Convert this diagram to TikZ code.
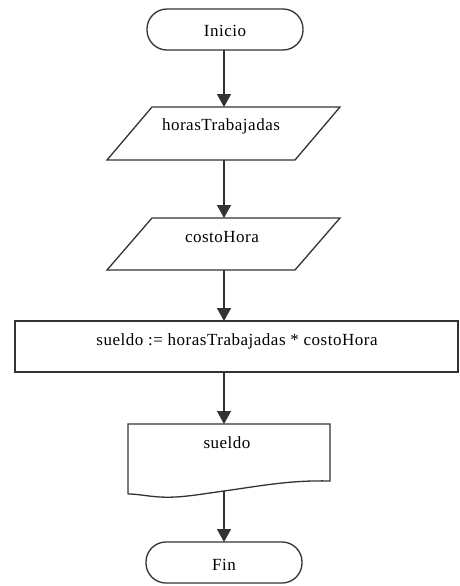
\documentclass[tikz,border=0pt]{standalone}
\usepackage{fontspec}
\setmainfont{Liberation Serif}[LetterSpace=3]
\usetikzlibrary{arrows.meta,calc}
\definecolor{ln}{HTML}{333333}
\tikzset{
  x=1pt, y=-1pt,
  shapebox/.style={draw=none, inner sep=0pt, outer sep=0pt, minimum width=#1},
  term/.style={draw=ln, line width=1.3pt, rounded corners=20pt, inner sep=0pt, outer sep=0pt, minimum width=156pt, minimum height=41pt},
  outl/.style={draw=ln, line width=1.3pt},
  lbl/.style={inner sep=0pt, font=\fontsize{17}{20}\selectfont},
  arr/.style={draw=ln, line width=1.3pt, -{Triangle[width=14pt,length=13pt]}}
}
\begin{document}
\begin{tikzpicture}
\useasboundingbox (0,0) rectangle (460,586);
\fill[white] (0,0) rectangle (460,586);
\coordinate (ax) at (224,0);
% Inicio
\node[term] (ini) at (225,29.5) {};
\node[lbl] (tini) at (225,31) {Inicio};
% parallelogram 1
\node[shapebox=233pt, minimum height=53pt] (p1) at (223.5,133.5) {};
\draw[outl] ($(p1.north west)+(45,0)$) -- (p1.north east) -- ($(p1.south east)-(45,0)$) -- (p1.south west) -- cycle;
\node[lbl] (tp1) at (221,126) {horasTrabajadas};
% parallelogram 2
\node[shapebox=233pt, minimum height=52pt] (p2) at (223.5,244) {};
\draw[outl] ($(p2.north west)+(45,0)$) -- (p2.north east) -- ($(p2.south east)-(45,0)$) -- (p2.south west) -- cycle;
\node[lbl] (tp2) at (222,237) {costoHora};
% process
\node[shapebox=443pt, minimum height=51pt, draw=ln, line width=1.3pt] (pr) at (236.5,346.5) {};
\node[lbl] (tpr) at (237,341) {sueldo := horasTrabajadas * costoHora};
% document
\node[shapebox=202pt, minimum height=70pt] (doc) at (229,459) {};
\draw[outl] (doc.south west) -- (doc.north west) -- (doc.north east) -- (330,481)
  .. controls (290,480) and (260,486) .. (224,491)
  .. controls (195,495) and (180,498) .. (160,497)
  .. controls (145,496) and (138,494) .. (doc.south west);
\coordinate (dout) at (224,491);
\node[lbl] (tdoc) at (227,443) {sueldo};
% Fin
\node[term] (fin) at (224,562.5) {};
\node[lbl] (tfin) at (224,565) {Fin};
% connectors
\draw[arr] (ini.south -| ax) -- (p1.north -| ax);
\draw[arr] (p1.south -| ax) -- (p2.north -| ax);
\draw[arr] (p2.south -| ax) -- (pr.north -| ax);
\draw[arr] (pr.south -| ax) -- (doc.north -| ax);
\draw[arr] (dout) -- (fin.north -| ax);
\end{tikzpicture}
\end{document}
